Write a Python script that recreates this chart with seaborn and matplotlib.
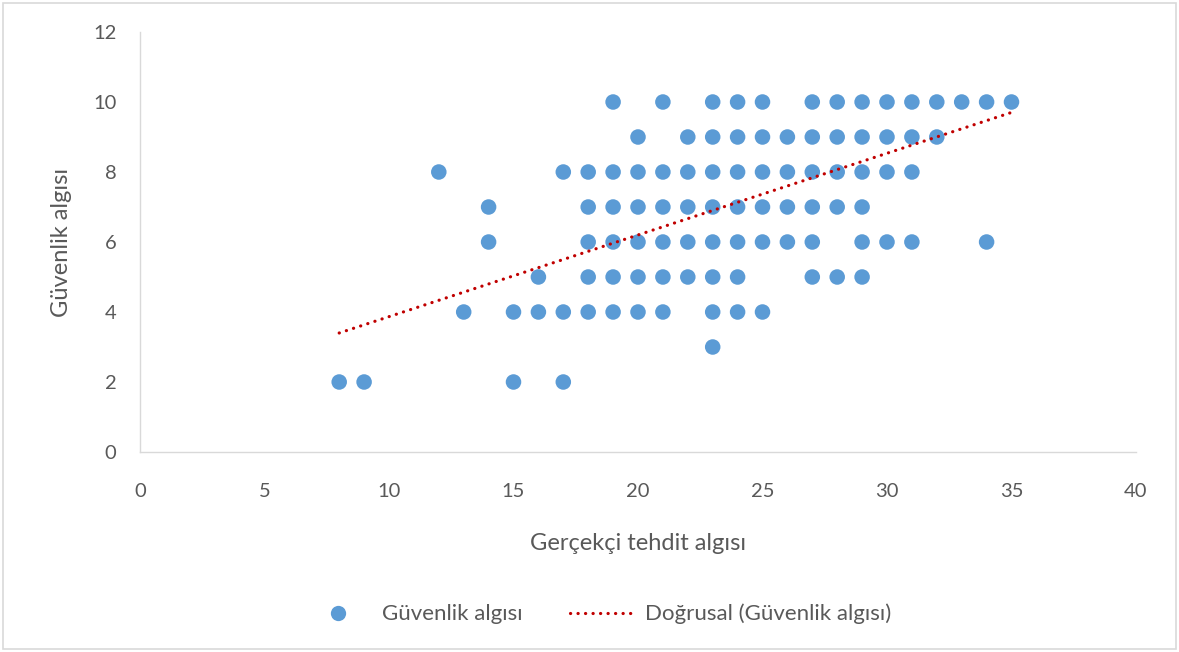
import numpy as np
import pandas as pd
import matplotlib
matplotlib.use("Agg")
import matplotlib.pyplot as plt
import seaborn as sns
from matplotlib.patches import Rectangle
from matplotlib.lines import Line2D

# Data: x values observed at each y level (Güvenlik algısı)
rows = {
    10: [19, 21, 23, 24, 25, 27, 28, 29, 30, 31, 32, 33, 34, 35],
    9: [20, 22, 23, 24, 25, 26, 27, 28, 29, 30, 31, 32],
    8: [12, 17, 18, 19, 20, 21, 22, 23, 24, 25, 26, 27, 28, 29, 30, 31],
    7: [14, 18, 19, 20, 21, 22, 23, 24, 25, 26, 27, 28, 29],
    6: [14, 18, 19, 20, 21, 22, 23, 24, 25, 26, 27, 29, 30, 31, 34],
    5: [16, 18, 19, 20, 21, 22, 23, 24, 27, 28, 29],
    4: [13, 15, 16, 17, 18, 19, 20, 21, 23, 24, 25],
    3: [23],
    2: [8, 9, 15, 17],
}
trend_slope = 0.2334
trend_intercept = 1.533

x_label = "Gerçekçi tehdit algısı"
y_label = "Güvenlik algısı"
series_name = "Güvenlik algısı"
trend_name = "Doğrusal (Güvenlik algısı)"
x_ticks = [0, 5, 10, 15, 20, 25, 30, 35, 40]
y_ticks = [0, 2, 4, 6, 8, 10, 12]

xs, ys = [], []
for yv, xl in rows.items():
    for xv in xl:
        xs.append(xv)
        ys.append(yv)
df = pd.DataFrame({"x": xs, "y": ys})

sns.set_theme(style="white")
plt.rcParams["font.family"] = ["Lato", "DejaVu Sans"]

fig = plt.figure(figsize=(11.79, 6.52), dpi=100)
ax = fig.add_axes([140 / 1179, 1 - 452 / 652, (1136 - 140) / 1179, (452 - 32) / 652])

blue = "#5B9BD5"
red = "#C00000"
grey_text = "#595959"
dot_style = (0, (0.05, 2.3))

sns.scatterplot(data=df, x="x", y="y", ax=ax, s=125, color=blue,
                edgecolor="none", linewidth=0, zorder=3)

tx = np.array([df["x"].min(), df["x"].max()], dtype=float)
ty = trend_intercept + trend_slope * tx
ax.plot(tx, ty, color=red, linestyle=dot_style, linewidth=2.3,
        dash_capstyle="round", zorder=4)

ax.set_xlim(0, 40)
ax.set_ylim(0, 12)
ax.set_xticks(x_ticks)
ax.set_yticks(y_ticks)
ax.tick_params(axis="both", length=0, labelsize=14.5, labelcolor=grey_text)
ax.tick_params(axis="x", pad=22)
ax.tick_params(axis="y", pad=17)
for s in ["top", "right"]:
    ax.spines[s].set_visible(False)
for s in ["left", "bottom"]:
    ax.spines[s].set_color("#d9d9d9")
    ax.spines[s].set_linewidth(1.0)

ax.set_xlabel(x_label, fontsize=17, color=grey_text, labelpad=24)
ax.set_ylabel(y_label, fontsize=17, color=grey_text, labelpad=15)

handles = [
    Line2D([], [], marker="o", linestyle="none", markersize=11,
           markerfacecolor=blue, markeredgecolor="none"),
    Line2D([], [], color=red, linestyle=dot_style, linewidth=2.3,
           dash_capstyle="round"),
]
fig.legend(handles, [series_name, trend_name], loc="center",
           bbox_to_anchor=(599 / 1179, 1 - 614 / 652), ncol=2, frameon=False,
           fontsize=16, labelcolor=grey_text, handlelength=2.84,
           columnspacing=2.1, handletextpad=0.55)

fig.patches.append(Rectangle((3 / 1179, 3 / 652), 1 - 6 / 1179, 1 - 6 / 652,
                             transform=fig.transFigure, fill=False,
                             edgecolor="#d9d9d9", linewidth=1.2))

fig.savefig("out.png", dpi=100)
